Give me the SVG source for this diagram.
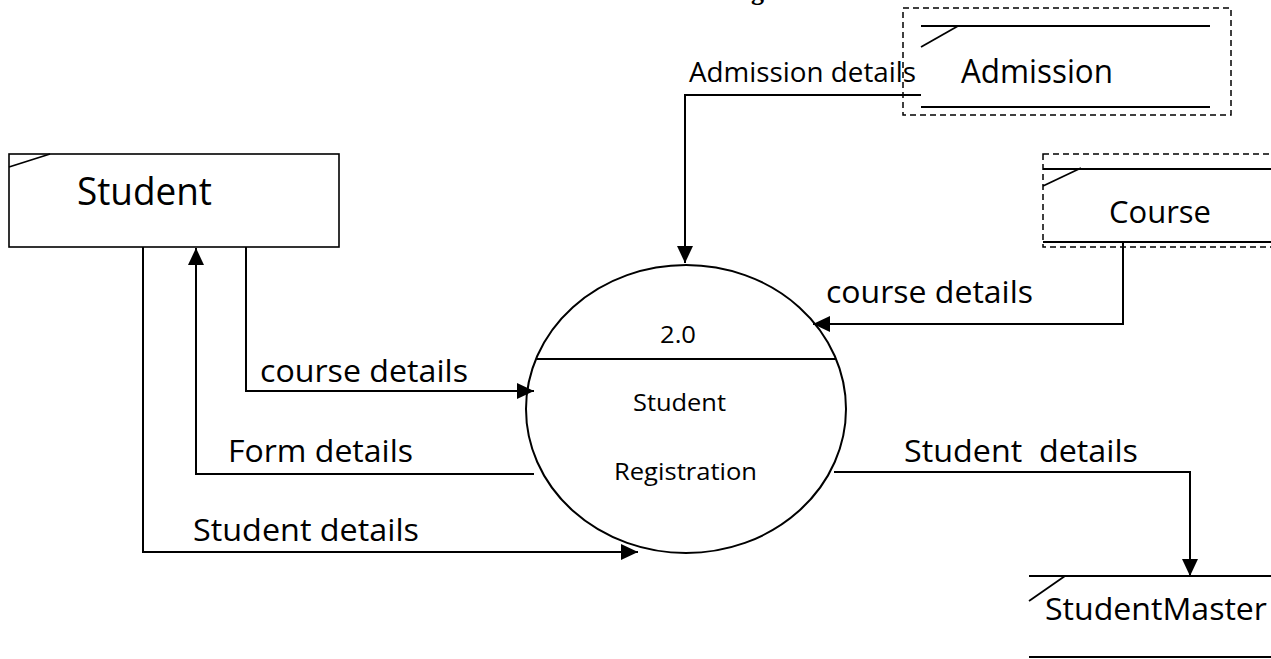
<svg xmlns="http://www.w3.org/2000/svg" width="1271" height="659" viewBox="0 0 1271 659">
  <style>
    .lbl { font-family: "Open Sans", "Liberation Sans", sans-serif; fill: #000; }
    .box { fill: #fff; stroke: #000; stroke-width: 1.6; }
    .dash { fill: none; stroke: #000; stroke-width: 1.5; stroke-dasharray: 6 4; }
    .ln { fill: none; stroke: #000; stroke-width: 1.8; }
    .conn { fill: none; stroke: #000; stroke-width: 2; marker-end: url(#arrow); }
  </style>
  <defs>
    <marker id="arrow" markerUnits="userSpaceOnUse" markerWidth="17" markerHeight="16" refX="17" refY="8" orient="auto">
      <path d="M0,0 L17,8 L0,16 z" fill="#000"/>
    </marker>
  </defs>
  <rect width="1271" height="659" fill="#fff"/>

  <text x="751" y="0" font-family="Liberation Serif, serif" font-weight="bold" font-size="26">g</text>

  <g id="connectors">
    <path class="conn" d="M921,95 H685 V263"/>
    <path class="conn" d="M1123,242 V324 H813"/>
    <path class="conn" d="M246,247 V391 H534"/>
    <path class="conn" d="M534,474 H196 V248"/>
    <path class="conn" d="M143,247 V552 H638"/>
    <path class="conn" d="M834,472 H1190 V576"/>
    <text class="lbl" x="689" y="82" font-size="27" textLength="227" lengthAdjust="spacingAndGlyphs">Admission details</text>
    <text class="lbl" x="826" y="303" font-size="31" textLength="207" lengthAdjust="spacingAndGlyphs">course details</text>
    <text class="lbl" x="904" y="462" font-size="31" textLength="234" lengthAdjust="spacingAndGlyphs" xml:space="preserve">Student  details</text>
    <text class="lbl" x="260" y="382" font-size="31" textLength="208" lengthAdjust="spacingAndGlyphs">course details</text>
    <text class="lbl" x="228" y="462" font-size="31" textLength="185" lengthAdjust="spacingAndGlyphs">Form details</text>
    <text class="lbl" x="193" y="541" font-size="31" textLength="226" lengthAdjust="spacingAndGlyphs">Student details</text>
  </g>

  <g id="student">
    <rect class="box" x="9" y="154" width="330" height="93"/>
    <line class="ln" x1="9" y1="167" x2="50" y2="154"/>
    <text class="lbl" x="77" y="205" font-size="38" textLength="135" lengthAdjust="spacingAndGlyphs">Student</text>
  </g>

  <g id="admission">
    <rect class="dash" x="903" y="8" width="328" height="107"/>
    <line class="ln" x1="921" y1="26" x2="1210" y2="26"/>
    <line class="ln" x1="921" y1="107" x2="1210" y2="107"/>
    <line class="ln" x1="921" y1="47" x2="958" y2="26"/>
    <text class="lbl" x="961" y="83" font-size="32" textLength="152" lengthAdjust="spacingAndGlyphs">Admission</text>
  </g>

  <g id="course">
    <rect class="dash" x="1043" y="154" width="260" height="93"/>
    <line class="ln" x1="1043" y1="169" x2="1271" y2="169"/>
    <line class="ln" x1="1043" y1="242" x2="1271" y2="242"/>
    <line class="ln" x1="1043" y1="186" x2="1081" y2="168"/>
    <text class="lbl" x="1109" y="223" font-size="31" textLength="102" lengthAdjust="spacingAndGlyphs">Course</text>
  </g>

  <g id="studentmaster">
    <line class="ln" x1="1029" y1="576" x2="1271" y2="576"/>
    <line class="ln" x1="1029" y1="657" x2="1271" y2="657"/>
    <line class="ln" x1="1029" y1="601" x2="1065" y2="576"/>
    <text class="lbl" x="1045" y="620" font-size="31" textLength="222" lengthAdjust="spacingAndGlyphs">StudentMaster</text>
  </g>

  <g id="process">
    <ellipse cx="686" cy="409" rx="160" ry="144" fill="none" stroke="#000" stroke-width="2"/>
    <line class="ln" x1="536" y1="359" x2="836" y2="359"/>
    <text class="lbl" x="660" y="343" font-size="24" textLength="36" lengthAdjust="spacingAndGlyphs">2.0</text>
    <text class="lbl" x="633" y="411" font-size="24" textLength="93" lengthAdjust="spacingAndGlyphs">Student</text>
    <text class="lbl" x="614" y="480" font-size="24" textLength="143" lengthAdjust="spacingAndGlyphs">Registration</text>
  </g>
</svg>
